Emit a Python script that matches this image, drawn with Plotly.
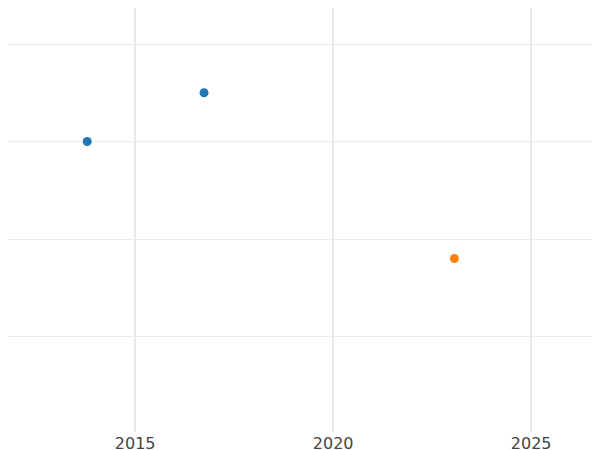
import plotly.graph_objects as go

x_blue = [2013.79, 2016.74]
y_blue = [3.0, 3.5]
x_orange = [2023.06]
y_orange = [1.8]
x_ticks = [2015, 2020, 2025]

fig = go.Figure()
fig.add_trace(go.Scatter(x=x_blue, y=y_blue, mode="markers",
                         marker=dict(color="#1f77b4", size=9)))
fig.add_trace(go.Scatter(x=x_orange, y=y_orange, mode="markers",
                         marker=dict(color="#ff7f0e", size=9)))
fig.update_layout(
    width=600, height=450, showlegend=False,
    plot_bgcolor="white", paper_bgcolor="white",
    margin=dict(l=0, r=0, t=0, b=26, autoexpand=False),
    font=dict(family="DejaVu Sans", size=16, color="#444"),
    xaxis=dict(range=[2011.79, 2026.94], tickvals=x_ticks,
               ticktext=[str(t) for t in x_ticks], ticklabelstandoff=0,
               gridcolor="#e8e8e8", gridwidth=1.5, zeroline=False),
    yaxis=dict(range=[0.02, 4.37], tickvals=[1, 2, 3, 4], showticklabels=False,
               gridcolor="#ececec", gridwidth=1.2, zeroline=False),
)
fig.write_html("out.html")
